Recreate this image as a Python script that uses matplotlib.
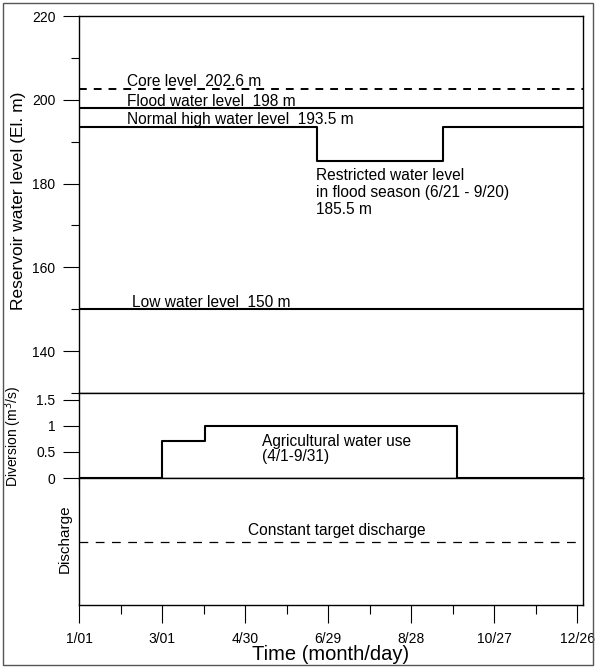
import matplotlib
matplotlib.use("Agg")
import matplotlib.pyplot as plt
from matplotlib.patches import Rectangle
from matplotlib.ticker import MultipleLocator

plt.rcParams['font.family'] = ['Liberation Sans', 'DejaVu Sans']

# ---- data ----
tick_days = [0, 60, 120, 180, 240, 300, 360]
tick_labels = ['1/01', '3/01', '4/30', '6/29', '8/28', '10/27', '12/26']

core_level = 202.6
flood_level = 198.0
low_level = 150.0
normal_days = [0, 172, 263, 364]
normal_levels = [193.5, 185.5, 193.5, 193.5]

div_days = [0, 60, 91, 273, 364]
div_values = [0.0, 0.7, 1.0, 0.0, 0.0]

discharge_target = 0.5

W, H = 598, 668
fig = plt.figure(figsize=(W / 100, H / 100), dpi=100)

def ax_rect(x0, y0, x1, y1):
    return [x0 / W, 1 - y1 / H, (x1 - x0) / W, (y1 - y0) / H]

ax1 = fig.add_axes(ax_rect(79, 16, 583, 393))
ax2 = fig.add_axes(ax_rect(79, 393, 583, 478))
ax3 = fig.add_axes(ax_rect(79, 478, 583, 605))

XMAX = 364
for ax in (ax1, ax2, ax3):
    ax.set_xlim(0, XMAX)
    for s in ax.spines.values():
        s.set_linewidth(1.0)

fs = 11.2
tfs = 10

# ---- top panel ----
ax1.set_ylim(130, 220)
ax1.axhline(core_level, color='black', lw=1.4, ls=(0, (4, 3.6)))
ax1.axhline(flood_level, color='black', lw=1.5)
ax1.axhline(low_level, color='black', lw=1.5)
ax1.plot(normal_days, normal_levels, color='black', lw=1.5, drawstyle='steps-post')
ax1.set_yticks([140, 160, 180, 200, 220])
ax1.yaxis.set_minor_locator(MultipleLocator(10))
ax1.tick_params(axis='y', which='major', direction='out', length=11.5, labelsize=tfs,
                width=0.8, pad=5.5)
ax1.tick_params(axis='y', which='minor', direction='out', length=6, width=0.8)
ax1.set_xticks(range(0, 361, 30))
ax1.tick_params(axis='x', which='both', bottom=True, labelbottom=False,
                direction='out', length=6, width=0.8)
ax1.set_ylabel('Reservoir water level (El. m)', fontsize=12.5)
ax1.yaxis.set_label_coords(-0.105, 0.51)

ax1.text(35, core_level + 0.6, 'Core level  202.6 m', fontsize=fs, va='baseline')
ax1.text(35, flood_level + 0.6, 'Flood water level  198 m', fontsize=fs, va='baseline')
ax1.text(35, normal_levels[0] + 0.6, 'Normal high water level  193.5 m', fontsize=fs,
         va='baseline')
ax1.text(38, low_level + 0.6, 'Low water level  150 m', fontsize=fs, va='baseline')
ax1.text(171, 183.6, 'Restricted water level\nin flood season (6/21 - 9/20)\n185.5 m',
         fontsize=fs, va='top', ha='left', linespacing=1.15)

# ---- middle panel ----
ax2.set_ylim(0, 1.63)
ax2.plot(div_days, div_values, color='black', lw=1.5, drawstyle='steps-post')
ax2.set_yticks([0, 0.5, 1, 1.5])
ax2.set_yticklabels(['0', '0.5', '1', '1.5'])
ax2.tick_params(axis='y', direction='out', length=11.5, labelsize=tfs, width=0.8, pad=5.5)
ax2.set_xticks(range(0, 361, 30))
ax2.tick_params(axis='x', which='both', bottom=True, labelbottom=False,
                direction='out', length=6, width=0.8)
ax2.set_ylabel('Diversion (m$^3$/s)', fontsize=10)
ax2.yaxis.set_label_coords(-0.109, 0.49)
ax2.text(132, 0.56, 'Agricultural water use\n(4/1-9/31)', fontsize=fs, va='center',
         ha='left', linespacing=1.0)

# ---- bottom panel ----
ax3.set_ylim(0, 1)
ax3.axhline(discharge_target, color='black', lw=0.9, ls=(0, (7, 6)))
ax3.set_yticks([])
ax3.set_xticks(tick_days)
ax3.set_xticklabels(tick_labels)
ax3.xaxis.set_minor_locator(MultipleLocator(30))
ax3.tick_params(axis='x', which='major', direction='out', length=13, labelsize=tfs,
                width=0.8, pad=6.5)
ax3.tick_params(axis='x', which='minor', direction='out', length=6.5, width=0.8)
ax3.set_ylabel('Discharge', fontsize=11)
ax3.yaxis.set_label_coords(-0.014, 0.52)
ax3.set_xlabel('Time (month/day)', fontsize=14.5, labelpad=-1)
ax3.text(186, discharge_target + 0.03, 'Constant target discharge', fontsize=fs,
         va='bottom', ha='center')

# outer frame
fig.patches.append(Rectangle((3 / W, 3 / H), 590 / W, 662 / H, transform=fig.transFigure,
                             fill=False, edgecolor='#555555', lw=1.0))

fig.savefig('out.png', dpi=100)
